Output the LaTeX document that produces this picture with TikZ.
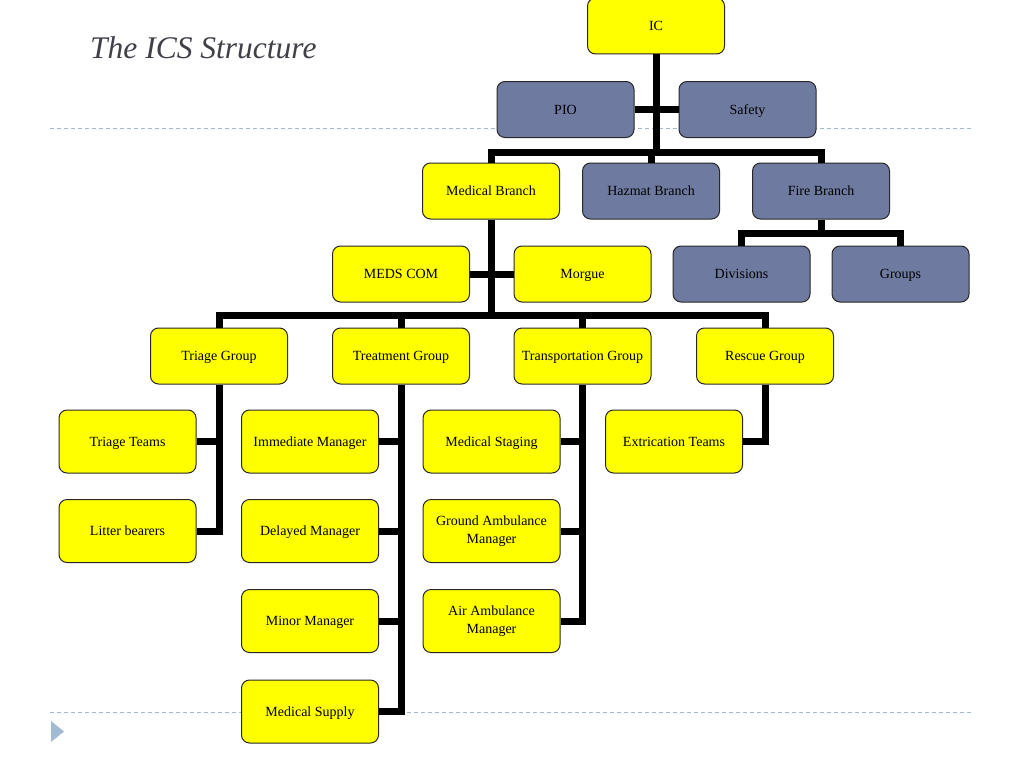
\documentclass[tikz,border=0pt]{standalone}
\usepackage{fontspec}
\setmainfont{Liberation Serif}
\usepackage{tikz}

\definecolor{boxyellow}{RGB}{255,255,0}
\definecolor{boxgrey}{RGB}{110,122,160}
\definecolor{ruleblue}{RGB}{166,184,204}
\definecolor{markblue}{RGB}{163,186,211}
\definecolor{titlegrey}{RGB}{64,64,72}
\definecolor{edgegrey}{RGB}{40,40,40}

\tikzset{
  unit/.style={draw=edgegrey, line width=1pt, rounded corners=8pt, minimum width=137pt, minimum height=56pt, inner sep=0.75pt, align=center, text height=12pt, text depth=3pt, font=\fontsize{14}{17.5}\selectfont},
  med/.style={unit, fill=boxyellow},
  other/.style={unit, fill=boxgrey},
  team/.style={med, minimum height=63pt},
  twoline/.style={team, text height={}, text depth={}},
  link/.style={line width=7pt, black, line join=miter},
  slide rule/.style={ruleblue, line width=1pt, dash pattern=on 4pt off 3pt},
}

\begin{document}
\begin{tikzpicture}[x=1pt,y=1pt,yscale=-1,xscale=1]
\useasboundingbox (0,0) rectangle (1024,768);

%Straight Lines [slide rules]
\draw [slide rule] (50,128) -- (972,128) ;
\draw [slide rule] (50,712) -- (972,712) ;
%Shape: Triangle
\fill [markblue] (51,721) -- (64,731.5) -- (51,742) -- cycle ;

% Text Node
\node [anchor=base west, inner sep=0pt, text=titlegrey, font=\fontsize{31.5}{36}\selectfont\itshape] (title) at (90,59) {The ICS Structure};

% Command
\node [med] (ic) at (656,26) {IC};
\node [other] (pio) at (565.5,109.5) {PIO};
\node [other] (safety) at (747.5,109.5) {Safety};

% Branches
\node [med] (medbr) at (491,191) {Medical Branch};
\node [other] (hazmat) at (651,191) {Hazmat Branch};
\node [other] (fire) at (821,191) {Fire Branch};

\node [med] (medscom) at (401,274) {MEDS COM};
\node [med] (morgue) at (582.5,274) {Morgue};
\node [other] (div) at (741.5,274) {Divisions};
\node [other] (groups) at (900.5,274) {Groups};

% Groups
\node [med] (triage) at (219,356) {Triage Group};
\node [med] (treat) at (401,356) {Treatment Group};
\node [med] (trans) at (582.5,356) {Transportation Group};
\node [med] (rescue) at (765,356) {Rescue Group};

% Teams
\node [team] (tteams) at (127.5,441.5) {Triage Teams};
\node [team] (litter) at (127.5,531) {Litter bearers};

\node [team] (immed) at (310,441.5) {Immediate Manager};
\node [team] (delay) at (310,531) {Delayed Manager};
\node [team] (minor) at (310,621) {Minor Manager};
\node [team] (supply) at (310,711.5) {Medical Supply};

\node [team] (staging) at (491.5,441.5) {Medical Staging};
\node [twoline] (ground) at (491.5,531) {Ground Ambulance\\Manager};
\node [twoline] (air) at (491.5,621) {Air Ambulance\\Manager};

\node [team] (extric) at (674,441.5) {Extrication Teams};

% Bars
\coordinate (topbar) at (656,152);
\coordinate (firebar) at (821,233);
\coordinate (medbar) at (491,315);

%Straight Lines [command]
\draw [link] (ic.south) -- (topbar) ;
\draw [link] (pio.east) -- (safety.west) ;
\draw [link] (medbr.north) |- (topbar) -| (fire.north) ;
\draw [link] (hazmat.north) -- (hazmat.north |- topbar) ;
%Straight Lines [fire]
\draw [link] (fire.south) -- (firebar) ;
\draw [link] (div.north) |- (firebar) -| (groups.north) ;
%Straight Lines [medical]
\draw [link] (medbr.south) -- (medbar) ;
\draw [link] (medscom.east) -- (morgue.west) ;
\draw [link] (triage.north) |- (medbar) -| (rescue.north) ;
\draw [link] (treat.north) -- (treat.north |- medbar) ;
\draw [link] (trans.north) -- (trans.north |- medbar) ;
%Straight Lines [triage]
\draw [link] (triage.south) |- (litter.east) ;
\draw [link] (tteams.east) -- (tteams.east -| triage.south) ;
%Straight Lines [treatment]
\draw [link] (treat.south) |- (supply.east) ;
\draw [link] (immed.east) -- (immed.east -| treat.south) ;
\draw [link] (delay.east) -- (delay.east -| treat.south) ;
\draw [link] (minor.east) -- (minor.east -| treat.south) ;
%Straight Lines [transportation]
\draw [link] (trans.south) |- (air.east) ;
\draw [link] (staging.east) -- (staging.east -| trans.south) ;
\draw [link] (ground.east) -- (ground.east -| trans.south) ;
%Straight Lines [rescue]
\draw [link] (rescue.south) |- (extric.east) ;

\end{tikzpicture}
\end{document}
